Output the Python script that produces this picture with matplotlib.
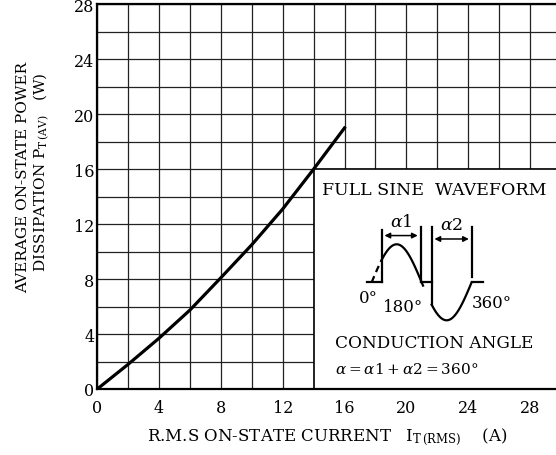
import numpy as np
import matplotlib.pyplot as plt
from matplotlib.patches import Rectangle

# curve
current = [0, 2, 4, 6, 8, 10, 12, 14, 16]
power = [0, 1.8, 3.7, 5.75, 8.1, 10.5, 13.1, 16.0, 19.0]

xTicks = [0, 4, 8, 12, 16, 20, 24, 28]
yTicks = [0, 4, 8, 12, 16, 20, 24, 28]
gridStep = 2

firing = 36  # firing angle of the waveform sketch [deg]

plt.rcParams['font.family'] = 'DejaVu Serif'
plt.rcParams['mathtext.fontset'] = 'dejavuserif'

fig = plt.figure(figsize=(5.56, 4.56), dpi=100)
ax = fig.add_axes([97.3 / 556, 66 / 456, (556 - 97.3) / 556, (390 - 5.3) / 456])

ax.plot(current, power, color='black', linewidth=2.3, zorder=3)
ax.set_xlim(0, (556 - 97.3) / 15.45)
ax.set_ylim(0, 28)
ax.set_xticks(xTicks)
ax.set_yticks(yTicks)
ax.set_xticks(np.arange(0, 30, gridStep), minor=True)
ax.set_yticks(np.arange(0, 28, gridStep), minor=True)
ax.tick_params(which='both', length=0, labelsize=11.5)
ax.tick_params(axis='x', pad=7)
ax.tick_params(axis='y', pad=2)
ax.set_axisbelow(True)
ax.grid(which='both', color='#222222', linewidth=0.9)
for side in ['left', 'bottom', 'top']:
    ax.spines[side].set_linewidth(1.6)
ax.spines['right'].set_visible(False)

# white box for the waveform legend
ax.add_patch(Rectangle((14, 0), 20, 16, facecolor='white', edgecolor='black',
                       linewidth=1.2, zorder=1.5))

ax.text(21.8, 14.5, 'FULL SINE  WAVEFORM', fontsize=12.5, ha='center', va='center', zorder=4)
ax.text(21.8, 3.4, 'CONDUCTION ANGLE', fontsize=12.2, ha='center', va='center', zorder=4)
ax.text(15.37, 1.46, r'$\alpha=\alpha1+\alpha2=360$°', fontsize=11, ha='left', va='center', zorder=4)

fig.text(327 / 556, 1 - 437 / 456, r'R.M.S ON-STATE CURRENT   I$_{\mathrm{T\,(RMS)}}$    (A)',
         fontsize=12, ha='center', va='center')
fig.text(23 / 556, 1 - 177 / 456, 'AVERAGE ON-STATE POWER', fontsize=11,
         rotation=90, ha='center', va='center')
fig.text(41 / 556, 1 - 172 / 456, r'DISSIPATION P$_{\mathrm{T\,(AV)}}$   (W)', fontsize=11,
         rotation=90, ha='center', va='center')

# waveform sketch, x in degrees, y in amplitude
wax = fig.add_axes([355 / 556, (456 - 332.7) / 456, 144.4 / 556, 125.4 / 456])
wax.set_xlim(-60, 460)
wax.set_ylim(-1.3, 2.0)
wax.axis('off')
wax.patch.set_alpha(0)

kw = dict(color='black', linewidth=1.6, clip_on=False)
deg = np.linspace(0, firing, 20)
wax.plot(deg, np.sin(np.radians(deg)), linestyle=(0, (3, 2)), **kw)
deg = np.linspace(firing, 185, 80)
wax.plot(deg, np.sin(np.radians(deg)), **kw)
deg = np.linspace(180 + firing, 360, 80)
wax.plot(deg, np.sin(np.radians(deg)), **kw)
wax.plot([-18, firing], [0, 0], **kw)
wax.plot([176, 180 + firing], [0, 0], **kw)
wax.plot([360, 402], [0, 0], **kw)

# extension lines
wax.plot([firing, firing], [0, 1.38], **kw)
wax.plot([176, 176], [0, 1.45], **kw)
wax.plot([180 + firing, 180 + firing], [np.sin(np.radians(180 + firing)), 1.45], **kw)
wax.plot([360, 360], [0.15, 1.45], **kw)

arrow = dict(arrowstyle='<|-|>', color='black', lw=1.1, mutation_scale=8)
wax.annotate('', xy=(firing, 1.23), xytext=(176, 1.23), arrowprops=arrow, annotation_clip=False)
wax.annotate('', xy=(180 + firing, 1.14), xytext=(360, 1.14), arrowprops=arrow, annotation_clip=False)
wax.text(108, 1.61, r'$\alpha1$', fontsize=12.5, ha='center', va='center')
wax.text(288, 1.53, r'$\alpha2$', fontsize=12.5, ha='center', va='center')
wax.text(-13, -0.40, '0°', fontsize=12, ha='center', va='center')
wax.text(113, -0.65, '180°', fontsize=12, ha='center', va='center')
wax.text(432, -0.52, '360°', fontsize=12, ha='center', va='center')

fig.savefig('out.png', dpi=100)
